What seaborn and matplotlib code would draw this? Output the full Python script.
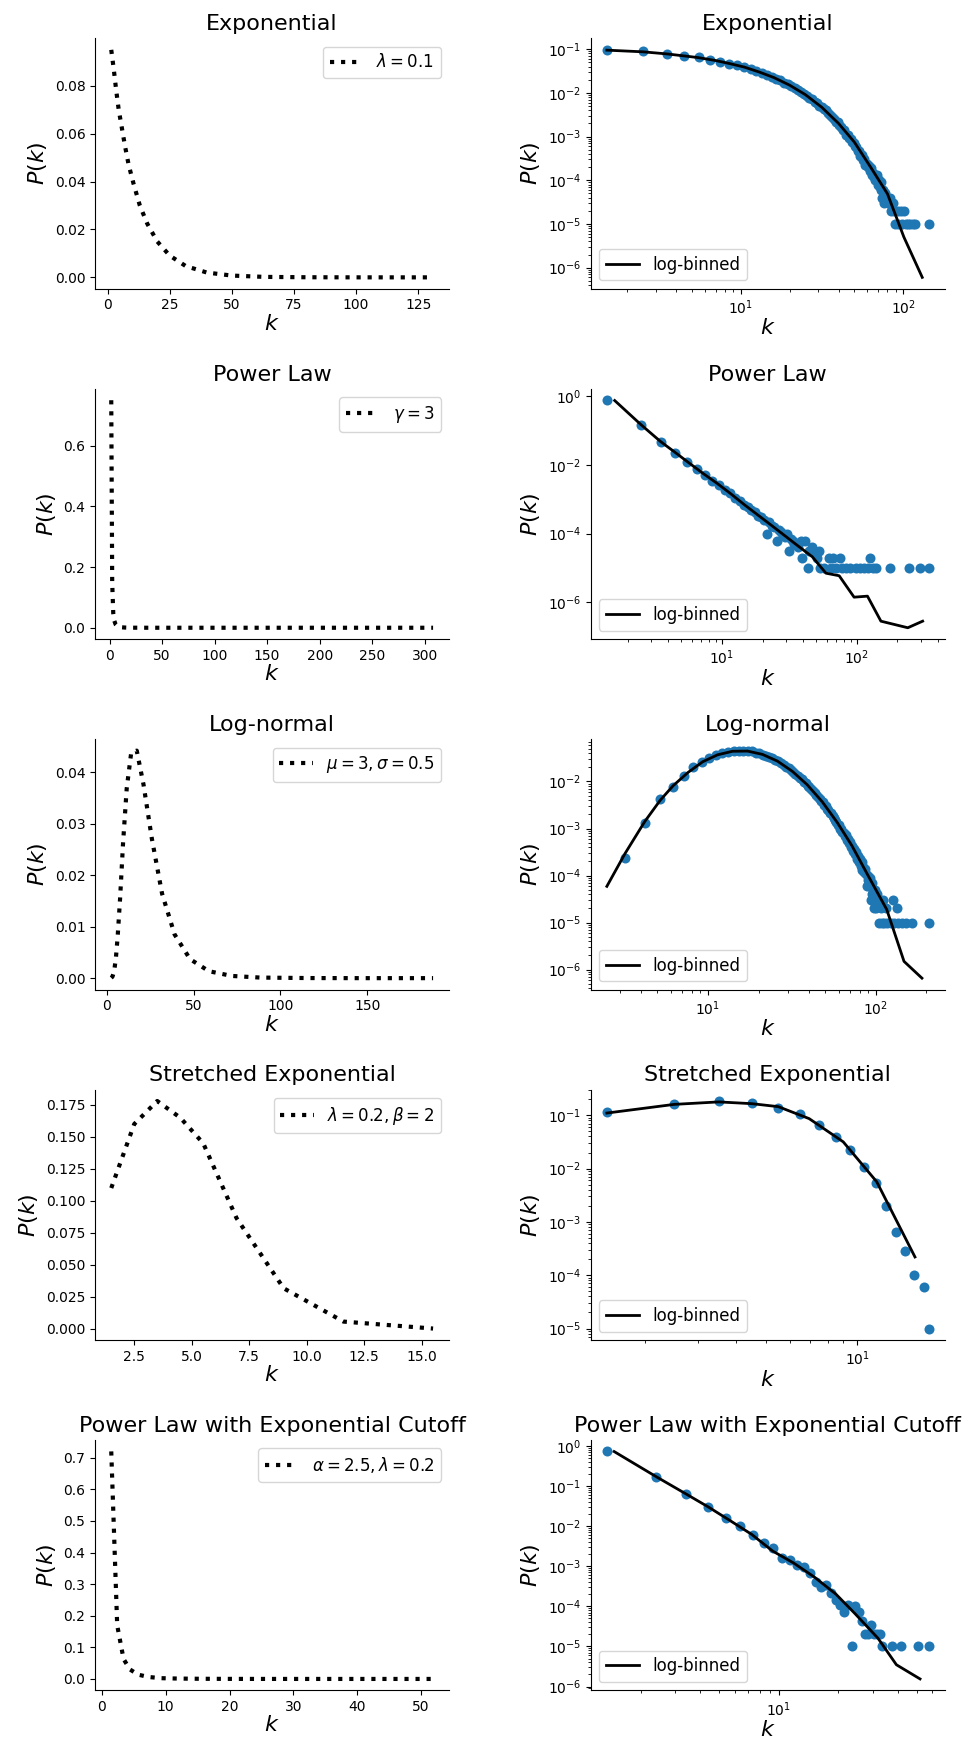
import matplotlib.pyplot as plt
import seaborn as sns
from matplotlib.ticker import MaxNLocator, LogLocator, NullLocator

# Exponential, lambda = 0.1 (raw histogram + log-binned curve)
exp_k = [1.5, 2.5, 3.5, 4.5, 5.5, 6.5, 7.5, 8.5, 9.5, 10.5, 11.5, 12.5, 13.5, 14.5, 15.5,
         16.5, 17.5, 18.5, 19.5, 20.5, 21.5, 22.5, 23.5, 24.5, 25.5, 26.5, 27.5, 28.5, 29.5,
         30.5, 31.5, 32.5, 33.5, 34.5, 35.5, 36.5, 37.5, 38.5, 39.5, 40.5, 41.5, 42.5, 43.5,
         44.5, 45.5, 46.5, 47.5, 48.5, 49.5, 50.5, 51.5, 52.5, 53.5, 54.5, 55.5, 56.5, 57.5,
         58.5, 59.5, 60.5, 61.5, 62.5, 63.5, 64.5, 65.5, 66.5, 67.5, 68.5, 69.5, 70.5, 71.5,
         72.5, 73.5, 74.5, 75.5, 76.5, 77.5, 79.5, 80.5, 82.5, 84.5, 86.5, 87.5, 89.5, 92.5,
         93.5, 96.5, 98.5, 101.5, 103.5, 106.5, 110.5, 114.5, 118.5, 143.5]
exp_p = [0.0966, 0.0885, 0.0783, 0.0707, 0.0646, 0.0570, 0.0516, 0.0470, 0.0428, 0.0385,
         0.0352, 0.0315, 0.0290, 0.0258, 0.0236, 0.0210, 0.0193, 0.0172, 0.0158, 0.0141,
         0.0130, 0.0116, 0.0106, 0.0094, 0.0087, 0.0077, 0.0072, 0.0063, 0.0059, 0.0051,
         0.0048, 0.0042, 0.0040, 0.0034, 0.0031, 0.0028, 0.0025, 0.0022, 0.0021, 0.0018,
         0.0017, 0.0014, 0.0014, 0.0011, 0.0011, 0.00093, 0.00090, 0.00074, 0.00072, 0.00060,
         0.00058, 0.00046, 0.00047, 0.00036, 0.00038, 0.00029, 0.00031, 0.00022, 0.00024,
         0.00020, 0.00021, 0.00016, 0.00019, 0.00013, 0.00015, 0.00012, 0.00010, 0.00013,
         0.00008, 0.00010, 0.00007, 0.00009, 0.00006, 0.00004, 0.00006, 0.00003, 0.00005,
         0.00004, 0.00003, 0.00004, 0.00002, 0.00003, 0.00002, 0.00001, 0.00002, 0.00001,
         0.00002, 0.00001, 0.00002, 0.00001, 0.00001, 0.00001, 0.00001, 0.00001, 0.00001]
exp_bin_k = [1.5, 2.5, 3.5, 4.5, 5.5, 7, 8.5, 10.5, 13, 16, 20, 25, 31.5, 40, 50, 63, 80, 101, 131]
exp_bin_p = [0.095, 0.087, 0.078, 0.070, 0.064, 0.055, 0.047, 0.039, 0.030, 0.0224, 0.0150,
             0.0091, 0.0047, 0.0020, 0.00075, 0.00020, 0.000049, 0.000005, 0.0000006]

# Power law, gamma = 3
pl_k = [1.4, 2.5, 3.5, 4.5, 5.5, 6.5, 7.5, 8.5, 9.5, 10.5, 11.5, 12.5, 13.5, 14.5, 15.5, 16.5,
        17.5, 18.5, 19.5, 20.5, 21.5, 22.5, 23.5, 24.5, 25.5, 26.5, 27.5, 28.5, 29.5, 30.5,
        31.5, 32.5, 33.5, 34.5, 36.5, 38.5, 39.5, 41.5, 43.5, 44.5, 46.5, 48.5, 50.5, 52.5,
        53.5, 57.5, 62.5, 64.5, 66.5, 70.5, 74.5, 77.5, 82.5, 88.5, 98.5, 105.5, 112.5,
        120.5, 125.5, 131.5, 139.5, 177.5, 245.5, 292.5, 341.5]
pl_p = [0.765, 0.144, 0.047, 0.0225, 0.0124, 0.0074, 0.0050, 0.0034, 0.0026, 0.0018, 0.0015,
        0.0011, 0.00088, 0.00070, 0.00061, 0.00047, 0.00043, 0.00033, 0.00031, 0.00025,
        0.00010, 0.00022, 0.00017, 0.00016, 0.00006, 0.00013, 0.00011, 0.00009, 0.00008,
        0.00010, 0.00003, 0.00007, 0.00006, 0.00005, 0.00004, 0.00006, 0.00002, 0.00006,
        0.00001, 0.00003, 0.00004, 0.00003, 0.00002, 0.00003, 0.00001, 0.00001, 0.00002,
        0.00001, 0.00002, 0.00001, 0.00002, 0.00001, 0.00001, 0.00001, 0.00001, 0.00001,
        0.00001, 0.00001, 0.00002, 0.00001, 0.00001, 0.00001, 0.00001, 0.00001, 0.00001]
pl_bin_k = [1.6, 2.5, 3.5, 4.5, 5.8, 7.3, 9.2, 11.6, 14.6, 18.4, 23.2, 29.2, 36.8, 46.8, 59,
            74, 95.5, 120, 151, 239, 308]
pl_bin_p = [0.75, 0.150, 0.048, 0.023, 0.0108, 0.0055, 0.0029, 0.00145, 0.00070, 0.00035,
            0.000175, 0.000087, 0.000043, 0.000021, 0.000007, 0.0000059, 0.0000014,
            0.0000015, 0.00000028, 0.00000018, 0.00000028]
pl_yticks = [1, 1e-2, 1e-4, 1e-6]

# Log-normal, mu = 3, sigma = 0.5
ln_k = [3.2, 4.2, 5.2, 6.2, 7.2, 8.2, 9.2, 10.2, 11.2, 12.2, 13.2, 14.2, 15.2, 16.2, 17.2,
        18.2, 19.2, 20.2, 21.2, 22.2, 23.2, 24.2, 25.2, 26.2, 27.2, 28.2, 29.2, 30.2, 31.2,
        32.2, 33.2, 34.2, 35.2, 36.2, 37.2, 38.2, 39.2, 40.2, 41.2, 42.2, 43.2, 44.2, 45.2,
        46.2, 47.2, 48.2, 49.2, 50.2, 51.2, 52.2, 53.2, 54.2, 55.2, 56.2, 57.2, 58.2, 59.2,
        60.2, 61.2, 62.2, 63.2, 64.2, 65.2, 66.2, 67.2, 68.2, 69.2, 70.2, 71.2, 72.2, 73.2,
        74.2, 75.2, 76.2, 77.2, 78.2, 79.2, 80.2, 81.2, 82.2, 83.2, 84.2, 85.2, 86.2, 87.2,
        88.2, 89.2, 90.2, 91.2, 92.2, 93.2, 94.2, 95.2, 96.2, 97.2, 98.2, 99.2, 100.2, 102.2,
        104.2, 105.2, 107.2, 108.2, 110.2, 112.2, 114.2, 116.2, 122.2, 126.2, 128.2, 133.2,
        136.2, 143.2, 150.2, 164.2, 206.2]
ln_p = [0.00024, 0.00133, 0.0042, 0.0077, 0.0129, 0.0198, 0.0253, 0.0316, 0.0357, 0.0401,
        0.0422, 0.0445, 0.0447, 0.0452, 0.0440, 0.0433, 0.0411, 0.0397, 0.0371, 0.0355,
        0.0327, 0.0311, 0.0283, 0.0266, 0.0241, 0.0228, 0.0204, 0.0191, 0.0171, 0.0160,
        0.0143, 0.0133, 0.0119, 0.0111, 0.0099, 0.0092, 0.0082, 0.0076, 0.0068, 0.0063,
        0.0056, 0.0052, 0.0046, 0.0043, 0.0038, 0.0036, 0.0031, 0.0030, 0.0026, 0.0025,
        0.0021, 0.0021, 0.0018, 0.0017, 0.0015, 0.0014, 0.0012, 0.0012, 0.00099, 0.00100,
        0.00086, 0.00082, 0.00070, 0.00072, 0.00058, 0.00060, 0.00050, 0.00052, 0.00041,
        0.00043, 0.00034, 0.00037, 0.00029, 0.00031, 0.00023, 0.00026, 0.00019, 0.00022,
        0.00016, 0.00019, 0.00013, 0.00015, 0.00012, 0.00014, 0.00011, 0.00006, 0.00010,
        0.00008, 0.00006, 0.00009, 0.00003, 0.00004, 0.00007, 0.00004, 0.00002, 0.00003,
        0.00005, 0.00002, 0.00004, 0.00001, 0.00003, 0.00002, 0.00001, 0.00003, 0.00001,
        0.00002, 0.00001, 0.00001, 0.00003, 0.00001, 0.00002, 0.00001, 0.00001, 0.00001,
        0.00001, 0.00001]
ln_bin_k = [2.5, 3.2, 4.2, 5.2, 6.2, 7.6, 9.3, 11.4, 14, 17.2, 21.1, 25.9, 31.8, 39, 47.9,
            58.8, 72, 88.5, 116, 147, 188]
ln_bin_p = [0.000059, 0.00029, 0.0014, 0.0040, 0.0081, 0.0155, 0.0262, 0.0368, 0.0438,
            0.0442, 0.0376, 0.0271, 0.0164, 0.0085, 0.0037, 0.00135, 0.00043, 0.00011,
            0.000019, 0.0000015, 0.00000066]

# Stretched exponential, lambda = 0.2, beta = 2
st_k = [1.5, 2.5, 3.5, 4.5, 5.5, 6.5, 7.5, 8.5, 9.5, 10.5, 11.5, 12.4, 13.4, 14.4, 15.4, 16.6, 17.2]
st_p = [0.115, 0.165, 0.185, 0.167, 0.139, 0.104, 0.0668, 0.0398, 0.0222, 0.0108, 0.00527,
        0.00202, 0.00066, 0.00028, 0.00010, 0.000059, 0.00001]
st_bin_k = [1.5, 2.5, 3.5, 4.5, 5.5, 6.95, 9.0, 11.6, 15.5]
st_bin_p = [0.11, 0.16, 0.178, 0.165, 0.145, 0.0865, 0.0317, 0.00566, 0.00022]

# Power law with exponential cutoff, alpha = 2.5, lambda = 0.2
pc_k = [1.35, 2.4, 3.4, 4.4, 5.4, 6.4, 7.4, 8.4, 9.4, 10.4, 11.4, 12.4, 13.4, 14.4, 15.4, 16.4,
        17.4, 18.4, 19.4, 20.4, 21.4, 22.4, 23.4, 24.4, 25.4, 26.4, 27.4, 28.4, 29.4, 30.4,
        31.4, 32.4, 33.4, 37.4, 41.4, 50.4, 57.4]
pc_p = [0.726, 0.164, 0.063, 0.0295, 0.0159, 0.0100, 0.0059, 0.0038, 0.0028, 0.0016, 0.0014,
        0.00105, 0.00093, 0.00066, 0.00041, 0.00031, 0.00034, 0.00021, 0.00014, 0.00011,
        0.000074, 0.00011, 0.00001, 0.00010, 0.000074, 0.000042, 0.00002, 0.00002, 0.000034,
        0.00002, 0.00002, 0.00002, 0.00001, 0.00001, 0.00001, 0.00001, 0.00001]
pc_bin_k = [1.47, 2.4, 3.4, 4.4, 5.7, 7.3, 9.3, 11.9, 15.2, 19.5, 24.3, 31.8, 39.4, 51.9]
pc_bin_p = [0.72, 0.17, 0.063, 0.030, 0.0135, 0.0062, 0.0024, 0.0012, 0.00053, 0.00020,
            0.000066, 0.000016, 0.0000035, 0.00000155]

titles = ["Exponential", "Power Law", "Log-normal", "Stretched Exponential",
          "Power Law with Exponential Cutoff"]
labels = [r"$\lambda = 0.1$", r"$\gamma = 3$", r"$\mu = 3, \sigma = 0.5$",
          r"$\lambda = 0.2, \beta = 2$", r"$\alpha = 2.5, \lambda = 0.2$"]

panels = [
    (exp_k, exp_p, exp_bin_k, exp_bin_p, None),
    (pl_k, pl_p, pl_bin_k, pl_bin_p, pl_yticks),
    (ln_k, ln_p, ln_bin_k, ln_bin_p, None),
    (st_k, st_p, st_bin_k, st_bin_p, None),
    (pc_k, pc_p, pc_bin_k, pc_bin_p, None),
]

fig, axes = plt.subplots(5, 2, figsize=(9.71, 17.48))
fig.subplots_adjust(left=0.098, right=0.973, top=0.978, bottom=0.033, wspace=0.40, hspace=0.40)

for i, (k, p, bk, bp, yt) in enumerate(panels):
    # left: log-binned distribution on linear axes
    ax = axes[i, 0]
    sns.lineplot(x=bk, y=bp, ax=ax, color="black", linestyle=":", linewidth=3, label=labels[i])
    ax.xaxis.set_major_locator(MaxNLocator(nbins=7, steps=[1, 2, 2.5, 5, 10]))
    ax.yaxis.set_major_locator(MaxNLocator(nbins=8, steps=[1, 2, 2.5, 5, 10]))
    ax.set_title(titles[i], fontsize=16)
    ax.set_xlabel("$k$", fontsize=16, labelpad=1)
    ax.set_ylabel("$P(k)$", fontsize=16)
    ax.legend(loc="upper right", fontsize=12)

    # right: raw histogram + log-binned on log-log axes
    ax = axes[i, 1]
    sns.scatterplot(x=k, y=p, ax=ax, color="#1f77b4", s=52, linewidth=0)
    sns.lineplot(x=bk, y=bp, ax=ax, color="black", linewidth=2, label="log-binned")
    ax.set(xscale="log", yscale="log")
    ax.xaxis.set_major_locator(LogLocator(numticks=7))
    if yt is None:
        ax.yaxis.set_major_locator(LogLocator(numticks=8))
    else:
        ax.set_yticks(yt)
        ax.yaxis.set_minor_locator(NullLocator())
    ax.set_title(titles[i], fontsize=16)
    ax.set_xlabel("$k$", fontsize=16, labelpad=1)
    ax.set_ylabel("$P(k)$", fontsize=16)
    ax.legend(loc="lower left", fontsize=12)

sns.despine(fig=fig)
fig.savefig("out.png", dpi=100)
